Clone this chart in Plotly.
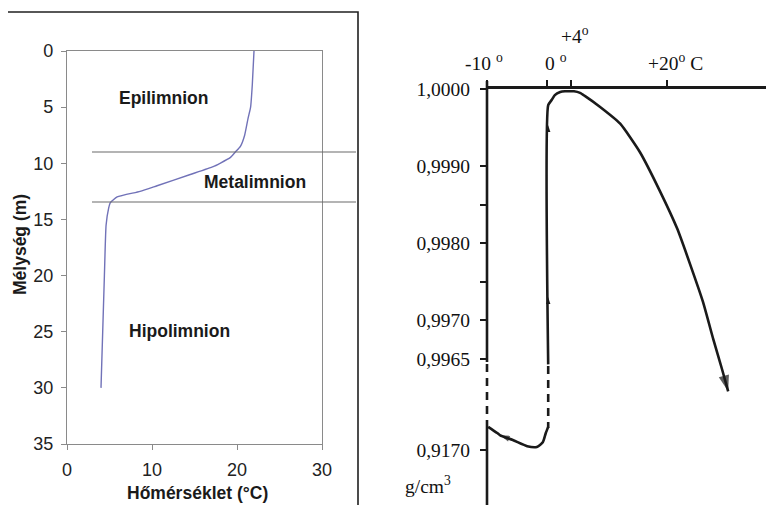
import plotly.graph_objects as go

W, H = 774, 505
OFF = 8  # the page draws the figure 8 px in from the top-left corner

# ---------------- Left chart: lake temperature profile ----------------
depth_m = [0, 3, 5, 6, 7.5, 8.5, 9, 9.5, 10, 10.3, 11, 12, 12.5, 13, 13.5, 14, 15.5, 20, 25, 30]
temp_c = [22.0, 21.8, 21.6, 21.3, 20.9, 20.4, 19.8, 19.2, 18.0, 17.2, 14.5, 10.6, 8.6, 5.9, 5.1, 4.9, 4.6, 4.4, 4.2, 4.0]
layer_boundaries_m = [9.0, 13.45]
layer_names = ["Epilimnion", "Metalimnion", "Hipolimnion"]
layer_label_temp = [11.3, 22.1, 13.2]
layer_label_depth = [4.2, 11.7, 24.9]
temp_ticks = [0, 10, 20, 30]
depth_ticks = [0, 5, 10, 15, 20, 25, 30, 35]
x_title_left = "Hőmérséklet (°C)"
y_title_left = "Mélység (m)"

# ---------------- Right chart: density of water / ice ----------------
water_temp = [0.2, 0.2, 0.8, 1.3, 2.2, 3.0, 4.0, 4.5, 5.5, 6.3, 8.8, 12.2, 15.5, 18.8,
              21.7, 23.8, 26.0, 27.7, 29.2, 30.2]
water_density = [0.99643, 0.99979, 0.99986, 0.99992, 0.99996, 0.99997, 0.99997, 0.99997,
                 0.99995, 0.99991, 0.99977, 0.99955, 0.99918, 0.99868, 0.99819, 0.99774,
                 0.99724, 0.99676, 0.99636, 0.99608]
water_arrow_temp = [0.2, 0.2]
water_arrow_density = [0.99730, 0.99953]
ice_temp = [-9.8, -8.3, -7.8, -5.7, -3.3, -1.7, -0.7, -0.2, 0.2]
ice_density = [0.91730, 0.91722, 0.91719, 0.91713, 0.91705, 0.91704, 0.91710, 0.91722, 0.91730]
upper_density_ticks = [1.0, 0.999, 0.9985, 0.998, 0.9975, 0.997, 0.9965]
upper_density_text = ["1,0000", "0,9990", "", "0,9980", "", "0,9970", "0,9965"]
lower_density_ticks = [0.917]
lower_density_text = ["0,9170"]
temp_axis_ticks = [-10, 0, 4, 20]
temp_axis_labels = ["-10 <sup>o</sup>", "0 <sup>o</sup>", "+4<sup>o</sup>", "+20<sup>o</sup> C"]
density_unit = "g/cm<sup>3</sup>"


def PX(x):
    return (x - OFF) / W


def PY(y):
    return 1 - (y - OFF) / H


SANS = "Liberation Sans, Arial, sans-serif"
SERIF = "Liberation Serif, Times New Roman, serif"
INK = "#1a1a1a"

fig = go.Figure()

# left curve
fig.add_trace(go.Scatter(
    x=temp_c, y=depth_m, mode="lines", xaxis="x", yaxis="y",
    line=dict(color="#7172b8", width=1.4, shape="spline", smoothing=0.5),
    showlegend=False, hoverinfo="skip"))

# right: water curve
fig.add_trace(go.Scatter(
    x=water_temp, y=water_density, mode="lines", xaxis="x2", yaxis="y2",
    line=dict(color=INK, width=2.6, shape="spline", smoothing=0.5),
    showlegend=False, hoverinfo="skip"))
# end arrow of water curve
fig.add_trace(go.Scatter(
    x=water_temp[-2:], y=water_density[-2:], mode="markers", xaxis="x2", yaxis="y2",
    marker=dict(symbol="arrow", angleref="previous", size=[0, 17], color=INK, line=dict(width=0)),
    showlegend=False, hoverinfo="skip"))
# small arrows on the vertical part
fig.add_trace(go.Scatter(
    x=water_arrow_temp, y=water_arrow_density, mode="markers", xaxis="x2", yaxis="y2",
    marker=dict(symbol="arrow", size=7, color=INK, line=dict(width=0)),
    showlegend=False, hoverinfo="skip"))

# ice curve
fig.add_trace(go.Scatter(
    x=ice_temp, y=ice_density, mode="lines", xaxis="x3", yaxis="y3",
    line=dict(color=INK, width=2.6, shape="spline", smoothing=0.6),
    showlegend=False, hoverinfo="skip"))
fig.add_trace(go.Scatter(
    x=ice_temp[3:1:-1], y=ice_density[3:1:-1], mode="markers", xaxis="x3", yaxis="y3",
    marker=dict(symbol="arrow", angleref="previous", size=[0, 10], color=INK, line=dict(width=0)),
    showlegend=False, hoverinfo="skip"))

shapes = []
# outer frame of the left chart
shapes.append(dict(type="rect", xref="paper", yref="paper",
                   x0=PX(7), x1=PX(358), y0=PY(530), y1=PY(12),
                   line=dict(color="#202020", width=1.6)))
# layer boundaries
for d in layer_boundaries_m:
    shapes.append(dict(type="line", xref="paper", yref="y",
                       x0=PX(92), x1=PX(356), y0=d, y1=d,
                       line=dict(color="#6a6a6a", width=1.1)))
# right y-axis line: solid, dashed break, solid
shapes.append(dict(type="line", xref="paper", yref="paper", x0=PX(487), x1=PX(487),
                   y0=PY(81), y1=PY(362), line=dict(color=INK, width=2.6)))
shapes.append(dict(type="line", xref="paper", yref="paper", x0=PX(487), x1=PX(487),
                   y0=PY(364), y1=PY(425), line=dict(color=INK, width=2.6, dash="8px,6px")))
shapes.append(dict(type="line", xref="paper", yref="paper", x0=PX(487), x1=PX(487),
                   y0=PY(425), y1=PY(510), line=dict(color=INK, width=2.6)))
# dashed break between water (0 °C) and ice
shapes.append(dict(type="line", xref="x2", yref="paper", x0=water_temp[0], x1=water_temp[0],
                   y0=PY(366), y1=PY(428), line=dict(color=INK, width=2.6, dash="8px,6px")))

annotations = []
for name, tx, dy in zip(layer_names, layer_label_temp, layer_label_depth):
    annotations.append(dict(x=tx, y=dy, xref="x", yref="y", text="<b>%s</b>" % name,
                            xanchor="center", yanchor="middle",
                            showarrow=False, font=dict(family=SANS, size=17.5, color="#1a1a1a")))
annotations.append(dict(x=PX(197), y=PY(493), xref="paper", yref="paper",
                        xanchor="center", yanchor="middle",
                        text="<b>%s</b>" % x_title_left, showarrow=False,
                        font=dict(family=SANS, size=17.5, color="#1a1a1a")))
annotations.append(dict(x=PX(20), y=PY(245), xref="paper", yref="paper",
                        xanchor="center", yanchor="middle",
                        text="<b>%s</b>" % y_title_left, showarrow=False, textangle=-90,
                        font=dict(family=SANS, size=17.5, color="#1a1a1a")))
# top temperature labels of the right chart
label_shift = [-3, 9, 4, 9]
label_y = [62, 62, 35, 62]
for t, lab, sh, ly in zip(temp_axis_ticks, temp_axis_labels, label_shift, label_y):
    annotations.append(dict(x=t, y=PY(ly), xref="x2", yref="paper", text=lab, xshift=sh,
                            xanchor="center", yanchor="middle",
                            showarrow=False, font=dict(family=SERIF, size=19.5, color="#111")))
annotations.append(dict(x=PX(428), y=PY(485), xref="paper", yref="paper", text=density_unit,
                        xanchor="center", yanchor="middle",
                        showarrow=False, font=dict(family=SERIF, size=19.5, color="#111")))

axis_gray = "#8a8a8a"
fig.update_layout(
    width=W, height=H,
    margin=dict(l=0, r=0, t=0, b=0, pad=0, autoexpand=False),
    paper_bgcolor="white", plot_bgcolor="rgba(0,0,0,0)",
    showlegend=False,
    xaxis=dict(domain=[PX(67), PX(322)], range=[0, 30], anchor="y",
               tickvals=temp_ticks, ticks="outside", ticklen=5, tickcolor=axis_gray,
               showline=True, linecolor=axis_gray, linewidth=1.2, mirror=True,
               showgrid=False, zeroline=False, ticklabelstandoff=4, automargin=False,
               tickfont=dict(family=SANS, size=18, color="#222")),
    yaxis=dict(domain=[PY(444), PY(51)], range=[35, 0], anchor="x",
               tickvals=depth_ticks, ticks="outside", ticklen=5, tickcolor=axis_gray,
               showline=True, linecolor=axis_gray, linewidth=1.2, mirror=True,
               showgrid=False, zeroline=False, ticklabelstandoff=4, automargin=False,
               tickfont=dict(family=SANS, size=18, color="#222")),
    xaxis2=dict(domain=[PX(487), 1.0], range=[-10, 39.17], anchor="y2", side="top",
                tickvals=temp_axis_ticks, showticklabels=False, ticks="outside",
                ticklen=6, tickwidth=2, tickcolor=INK, automargin=False,
                showline=True, linecolor=INK, linewidth=2.6,
                showgrid=False, zeroline=False),
    yaxis2=dict(domain=[PY(400), PY(89)], range=[0.995968, 1.0], anchor="x2",
                tickvals=upper_density_ticks, ticktext=upper_density_text,
                ticks="outside", ticklen=6, tickwidth=2, tickcolor=INK, automargin=False,
                showline=False, showgrid=False, zeroline=False, ticklabelstandoff=6,
                tickfont=dict(family=SERIF, size=19.5, color="#111")),
    xaxis3=dict(domain=[PX(487), 1.0], matches="x2", anchor="y3", visible=False),
    yaxis3=dict(domain=[max(PY(505), 0.0), PY(362)],
                range=[0.917 - (505 - 450) / 77140, 0.918141], anchor="x3",
                tickvals=lower_density_ticks, ticktext=lower_density_text,
                ticks="outside", ticklen=6, tickwidth=2, tickcolor=INK, automargin=False,
                showline=False, showgrid=False, zeroline=False, ticklabelstandoff=6,
                tickfont=dict(family=SERIF, size=19.5, color="#111")),
    shapes=shapes,
    annotations=annotations,
)

fig.write_html("out.html")
